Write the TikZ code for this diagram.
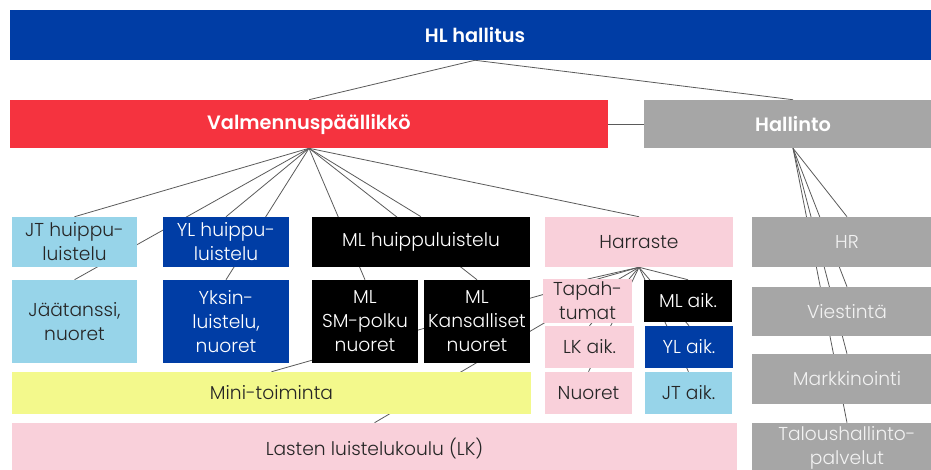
\documentclass[tikz,border=0pt]{standalone}
\usepackage{fontspec}
\setmainfont{Poppins}[UprightFont=* Light, BoldFont=* SemiBold]
\usepackage{tikz}
\usetikzlibrary{positioning,backgrounds}

\definecolor{hlblue}{RGB}{0,61,165}
\definecolor{vpred}{RGB}{245,51,63}
\definecolor{adgray}{RGB}{166,166,166}
\definecolor{iceblue}{RGB}{151,212,233}
\definecolor{harpink}{RGB}{249,208,218}
\definecolor{miniyellow}{RGB}{243,249,140}
\definecolor{linegray}{RGB}{90,90,90}

\begin{document}
\begin{tikzpicture}[x=0.75pt, y=-0.75pt,
    box/.style={rectangle, inner sep=2pt, align=center, font=\fontsize{14}{18}\selectfont},
    head/.style={box, text=white, font=\fontsize{14.5}{18}\selectfont\bfseries},
    darkbox/.style={box, fill=#1, text=white},
    lightbox/.style={box, fill=#1, text=black!85},
    grey/.style={box, fill=adgray, text=white!95!black},
    conn/.style={draw=linegray, line width=0.6pt}]
    \clip (0,0) rectangle (931,470);
    \useasboundingbox (0,0) rectangle (931,470);

    % ylin taso
    \node[head, fill=hlblue, minimum width=697.5pt, minimum height=37.5pt] (hl) at (475,35) {HL hallitus};
    \node[head, fill=vpred, minimum width=448.5pt, minimum height=36pt] (vp) at (309,124) {Valmennuspäällikkö};
    \node[head, fill=adgray, minimum width=223.5pt, minimum height=36pt] (hall) at (793,124) {Hallinto};

    % valmennus
    \node[lightbox=iceblue, minimum width=93.75pt, minimum height=37.5pt] (jt) at (74.5,242) {JT huippu-\\luistelu};
    \node[darkbox=hlblue, minimum width=94.5pt, minimum height=37.5pt] (yl) at (226,242) {YL huippu-\\luistelu};
    \node[darkbox=black, minimum width=163.5pt, minimum height=37.5pt] (mlh) at (421,242) {ML huippuluistelu};
    \node[lightbox=harpink, minimum width=141pt, minimum height=37.5pt] (harr) at (639,242) {Harraste};

    \node[lightbox=iceblue, minimum width=93.75pt, minimum height=62.25pt] (jaat) at (74.5,321.5) {Jäätanssi,\\nuoret};
    \node[darkbox=hlblue, minimum width=94.5pt, minimum height=62.25pt] (yks) at (226,321.5) {Yksin-\\luistelu,\\nuoret};
    \node[darkbox=black, minimum width=79.5pt, minimum height=62.25pt] (mlsm) at (365,321.5) {ML\\SM-polku\\nuoret};
    \node[darkbox=black, minimum width=79.5pt, minimum height=62.25pt] (mlk) at (477,321.5) {ML\\Kansalliset\\nuoret};

    % harraste
    \node[lightbox=harpink, minimum width=66.75pt, minimum height=31.5pt] (tap) at (587.5,301) {Tapah-\\tumat};
    \node[darkbox=black, minimum width=66pt, minimum height=31.5pt] (mlaik) at (688,301) {ML aik.};
    \node[lightbox=harpink, minimum width=66.75pt, minimum height=31.5pt] (lkaik) at (589.5,347) {LK aik.};
    \node[darkbox=hlblue, minimum width=66pt, minimum height=31.5pt] (ylaik) at (689,347) {YL aik.};
    \node[lightbox=harpink, minimum width=65.25pt, minimum height=31.5pt] (nuo) at (588.5,393) {Nuoret};
    \node[lightbox=iceblue, minimum width=65.25pt, minimum height=31.5pt] (jtaik) at (688.5,393) {JT aik.};
    \node[lightbox=miniyellow, minimum width=389.25pt, minimum height=31.5pt] (mini) at (271.5,393) {Mini-toiminta};
    \node[lightbox=harpink, minimum width=543.75pt, minimum height=39pt] (lk) at (374.5,449) {Lasten luistelukoulu (LK)};

    % hallinto
    \node[grey, minimum width=142.5pt, minimum height=37.5pt] (hr) at (847,242) {HR};
    \node[grey, minimum width=142.5pt, minimum height=36.75pt] (vies) at (847,311.5) {Viestintä};
    \node[grey, minimum width=142.5pt, minimum height=37.5pt] (mark) at (847,379) {Markkinointi};
    \node[grey, minimum width=142.5pt, minimum height=37.5pt] (tal) at (847,448) {Taloushallinto-\\palvelut};

    \begin{pgfonlayer}{background}
        \draw[conn] (hl.south) -- (vp.north);
        \draw[conn] (hl.south) -- (hall.north);
        \draw[conn] (vp.east) -- (hall.west);

        \foreach \n in {jt,jaat,yl,yks,mlh,mlsm,mlk,harr}
            \draw[conn] (vp.south) -- (\n.north);
        \foreach \n in {tap,lkaik,nuo,mlaik,ylaik,jtaik,mini,lk}
            \draw[conn] (harr.south) -- (\n.north);
        \foreach \n in {hr,vies,mark,tal}
            \draw[conn] (hall.south) -- (\n.north);
    \end{pgfonlayer}
\end{tikzpicture}
\end{document}
